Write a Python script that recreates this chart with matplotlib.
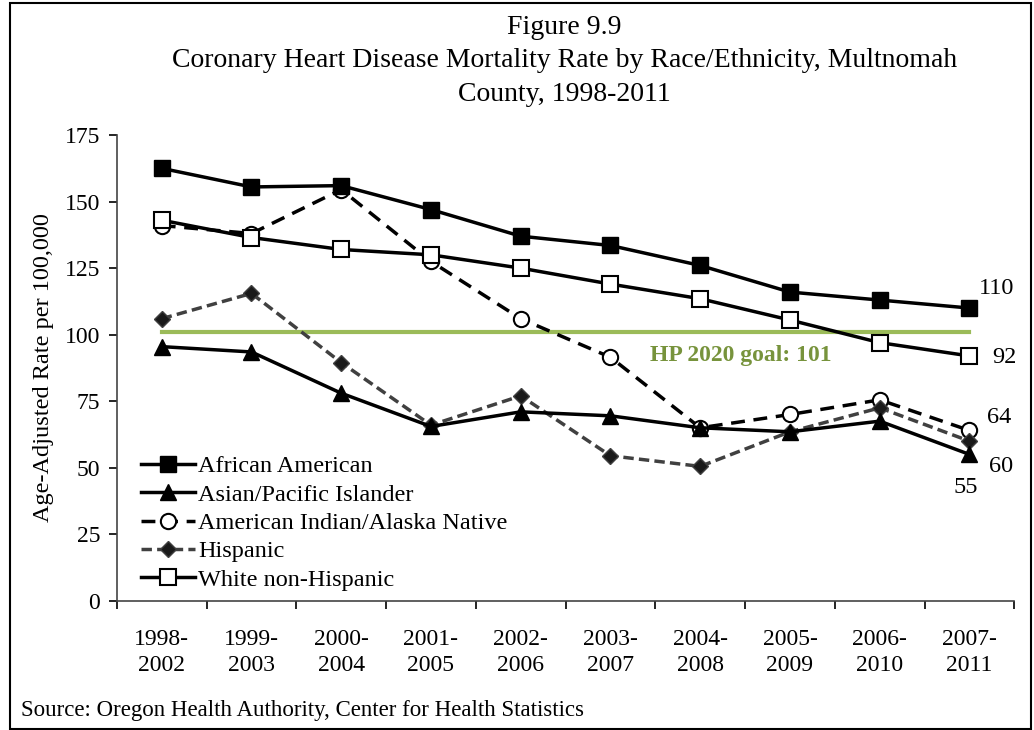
import numpy as np
import matplotlib.pyplot as plt
from matplotlib.patches import Rectangle

plt.rcParams['font.family'] = ['Liberation Serif', 'DejaVu Serif']

periods = ['1998-\n2002', '1999-\n2003', '2000-\n2004', '2001-\n2005', '2002-\n2006',
           '2003-\n2007', '2004-\n2008', '2005-\n2009', '2006-\n2010', '2007-\n2011']
african_american = [162.5, 155.5, 156, 147, 137, 133.5, 126, 116, 113, 110]
asian_pi = [95.5, 93.5, 78, 65.5, 71, 69.5, 65, 63.5, 67.5, 55]
aian = [141, 138, 154.5, 127.5, 106, 91.5, 65, 70, 75.5, 64]
hispanic = [106, 115.5, 89.5, 66, 77, 54.5, 50.5, 63.5, 72.5, 60]
white = [143, 136.5, 132, 130, 125, 119, 113.5, 105.5, 97, 92]
goal = 101

title_lines = ['Figure 9.9',
               'Coronary Heart Disease Mortality Rate by Race/Ethnicity, Multnomah',
               'County, 1998-2011']

x = np.arange(len(periods))

fig = plt.figure(figsize=(10.34, 7.3), dpi=100)
ax = fig.add_axes([0.113, 0.177, 0.868, 0.638])

ax.plot(x, african_american, color='black', lw=2.5, marker='s', ms=11,
        mfc='black', mec='black', label='African American', zorder=4)
ax.plot(x, asian_pi, color='black', lw=2.5, marker='^', ms=11,
        mfc='black', mec='black', label='Asian/Pacific Islander', zorder=4)
ax.plot(x, aian, color='black', lw=2.5, ls=(0, (4, 2.5)), marker='o', ms=11,
        mfc='white', mec='black', mew=1.5, label='American Indian/Alaska Native', zorder=3)
ax.plot(x, hispanic, color='#404040', lw=2.5, ls=(0, (3, 1.5)), marker='D', ms=8,
        mfc='#1a1a1a', mec='#404040', label='Hispanic', zorder=3)
ax.plot(x, white, color='black', lw=2.5, marker='s', ms=11,
        mfc='white', mec='black', mew=1.5, label='White non-Hispanic', zorder=4)

ax.plot([x[0], x[-1]], [goal, goal], color='#9bbb59', lw=3, zorder=2)
ax.text(6.45, 92, 'HP 2020 goal: 101', color='#77933c', fontsize=17,
        fontweight='bold', ha='center', va='center')

ax.text(9.1, 117.5, '110', fontsize=17.5, ha='left', va='center')
ax.text(9.25, 91.5, '92', fontsize=17.5, ha='left', va='center')
ax.text(9.2, 69, '64', fontsize=17.5, ha='left', va='center')
ax.text(9.22, 50.5, '60', fontsize=17.5, ha='left', va='center')
ax.text(8.96, 42.5, '55', fontsize=17.5, ha='center', va='center')

ax.set_xlim(-0.5, 9.5)
ax.set_ylim(0, 175)
ax.set_yticks(np.arange(0, 176, 25))
ax.set_xticks(np.arange(-0.5, 9.6, 1))
ax.set_xticklabels([])
ax.set_xticks(x, minor=True)
ax.set_xticklabels(periods, minor=True, fontsize=17, linespacing=1.35)
ax.tick_params(axis='x', which='minor', length=0, pad=20)
ax.tick_params(axis='x', which='major', length=6, width=1.2, direction='out')
ax.tick_params(axis='y', labelsize=17, length=6, width=1.2, direction='out', pad=6)
for s in ['top', 'right']:
    ax.spines[s].set_visible(False)
ax.spines['left'].set_color('#444444')
ax.spines['bottom'].set_color('#444444')
ax.spines['left'].set_linewidth(1.2)
ax.spines['bottom'].set_linewidth(1.2)

ax.set_ylabel('Age-Adjusted Rate per 100,000', fontsize=17.5, labelpad=8)

ax.legend(loc='lower left', bbox_to_anchor=(0.008, -0.015), frameon=False, fontsize=17.5,
          handlelength=2.2, handletextpad=0.15, labelspacing=0.26, borderaxespad=0.3)

# title lines, evenly spaced
for i, line in enumerate(title_lines):
    fig.text(0.546, 0.962 - i * 0.0455, line, ha='center', va='center', fontsize=20)
fig.text(0.02, 0.027, 'Source: Oregon Health Authority, Center for Health Statistics',
         ha='left', va='center', fontsize=16.5)

fig.patches.append(Rectangle((0.01, 0.002), 0.987, 0.994, transform=fig.transFigure,
                             fill=False, edgecolor='black', lw=1.5))

fig.savefig('out.png', dpi=100)
